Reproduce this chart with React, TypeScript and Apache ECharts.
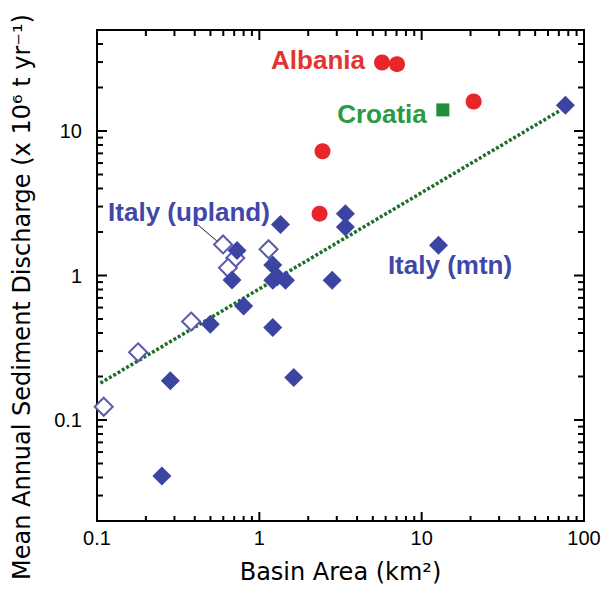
import React, { useEffect, useRef } from 'react';
import * as echarts from 'echarts';

const X_MIN = 0.1;
const X_MAX = 100;
const Y_MIN = 0.02;
const Y_MAX = 50;

const xMajorTicks = [1, 10];
const xMinorTicks = [
  0.2, 0.3, 0.4, 0.5, 0.6, 0.7, 0.8, 0.9,
  2, 3, 4, 5, 6, 7, 8, 9,
  20, 30, 40, 50, 60, 70, 80, 90,
];
const yMajorTicks = [0.1, 1, 10];
const yMinorTicks = [
  0.03, 0.04, 0.05, 0.06, 0.07, 0.08, 0.09,
  0.2, 0.3, 0.4, 0.5, 0.6, 0.7, 0.8, 0.9,
  2, 3, 4, 5, 6, 7, 8, 9,
  20, 30, 40,
];

// [basin area km2, discharge 10^6 t/yr]
const albania = [
  [5.7, 29.8],
  [7.05, 29.0],
  [20.9, 16.0],
  [2.45, 7.24],
  [2.35, 2.68],
];
const croatia = [[13.5, 14.0]];
const italyMtn = [
  [76.8, 15.1],
  [1.35, 2.25],
  [3.39, 2.68],
  [3.39, 2.17],
  [0.729, 1.49],
  [0.679, 0.931],
  [1.21, 1.18],
  [1.29, 0.98],
  [1.45, 0.928],
  [1.21, 0.928],
  [2.81, 0.928],
  [0.8, 0.616],
  [0.499, 0.459],
  [1.21, 0.436],
  [1.63, 0.197],
  [0.283, 0.187],
  [0.251, 0.0409],
  [12.7, 1.62],
];
const italyUpland = [
  [0.11, 0.1235],
  [0.179, 0.294],
  [0.38, 0.48],
  [0.598, 1.64],
  [0.711, 1.32],
  [0.641, 1.13],
  [1.14, 1.52],
];
const trend = [
  [0.105, 0.18],
  [70, 13.7],
];

const isMajor = (v: number) => {
  const l = Math.log10(v);
  return Math.abs(l - Math.round(l)) < 1e-6;
};
const fmt = (v: number) => {
  if (!isMajor(v)) return '';
  return v >= 1 ? String(Math.round(v)) : String(+v.toPrecision(1));
};

const BLUE = '#3b44a3';
const OPEN_BLUE = '#5a5aaa';
const RED = '#e8262a';
const GREEN = '#1f8f3c';

const W = 607;
const H = 589;
const G_LEFT = 97;
const G_RIGHT = 23;
const G_TOP = 30;
const G_BOTTOM = 67;
const MAJOR_LEN = 10;
const MINOR_LEN = 6;
const TICK_W = 2;

export default function App() {
  const ref = useRef<HTMLDivElement>(null);
  useEffect(() => {
    if (!ref.current) return;
    const chart = echarts.init(ref.current, undefined, { renderer: 'svg' });
    const labelFont = 'bold 26px "Liberation Sans", Arial, sans-serif';
    chart.setOption({
      animation: false,
      backgroundColor: '#fff',
      grid: {
        left: G_LEFT,
        right: G_RIGHT,
        top: G_TOP,
        bottom: G_BOTTOM,
        show: true,
        borderColor: '#000',
        borderWidth: 2,
        backgroundColor: 'transparent',
      },
      xAxis: {
        type: 'log',
        logBase: 10,
        min: X_MIN,
        max: X_MAX,
        position: 'bottom',
        name: 'Basin Area (km²)',
        nameLocation: 'middle',
        nameGap: 39,
        nameTextStyle: { fontFamily: 'DejaVu Sans', fontSize: 24, color: '#000' },
        axisLine: { show: true, lineStyle: { color: '#000', width: 2 } },
        axisTick: { show: false },
        splitLine: { show: false },
        axisLabel: {
          formatter: fmt,
          fontFamily: 'Liberation Sans',
          fontSize: 20,
          color: '#000',
          margin: 7,
          showMinLabel: true,
          showMaxLabel: true,
        },
      },
      yAxis: {
        type: 'log',
        logBase: 10,
        min: Y_MIN,
        max: Y_MAX,
        position: 'left',
        axisLine: { show: true, lineStyle: { color: '#000', width: 2 } },
        axisTick: { show: false },
        splitLine: { show: false },
        axisLabel: {
          formatter: fmt,
          fontFamily: 'Liberation Sans',
          fontSize: 20,
          color: '#000',
          margin: 15,
        },
      },
      series: [
        {
          type: 'line',
          name: 'trend',
          data: trend,
          showSymbol: false,
          symbol: 'none',
          lineStyle: { color: '#1e6e2a', width: 3.5, type: [3, 2] },
          z: 2,
        },
        {
          type: 'scatter',
          name: 'Italy (upland)',
          data: italyUpland,
          symbol: 'diamond',
          symbolSize: 18,
          itemStyle: { color: '#fff', borderColor: OPEN_BLUE, borderWidth: 2, opacity: 1 },
          z: 3,
        },
        {
          type: 'scatter',
          name: 'Italy (mtn)',
          data: italyMtn,
          symbol: 'diamond',
          symbolSize: 19,
          itemStyle: { color: BLUE, opacity: 1 },
          z: 4,
        },
        {
          type: 'scatter',
          name: 'Albania',
          data: albania,
          symbol: 'circle',
          symbolSize: 16,
          itemStyle: { color: RED, opacity: 1 },
          z: 4,
        },
        {
          type: 'scatter',
          name: 'Croatia',
          data: croatia,
          symbol: 'rect',
          symbolSize: 13,
          itemStyle: { color: GREEN, opacity: 1 },
          z: 4,
        },
      ],
    });

    // Tick marks as small filled rects; positions taken from the chart's own log axes
    // through an interior point of the grid.
    const bottom = H - G_BOTTOM;
    const top = G_TOP;
    const left = G_LEFT;
    const right = W - G_RIGHT;
    const toPx = (x: number, y: number): number[] | null => {
      const p: any = chart.convertToPixel({ gridIndex: 0 }, [x, y]);
      if (!p || !isFinite(p[0]) || !isFinite(p[1])) return null;
      return p as number[];
    };
    const ticks: any[] = [];
    const addX = (v: number, len: number) => {
      const p = toPx(v, 1);
      if (!p) return;
      const x = p[0];
      ticks.push({ type: 'rect', shape: { x: x - TICK_W / 2, y: bottom - len, width: TICK_W, height: len }, style: { fill: '#000' } });
      ticks.push({ type: 'rect', shape: { x: x - TICK_W / 2, y: top, width: TICK_W, height: len }, style: { fill: '#000' } });
    };
    const addY = (v: number, len: number) => {
      const p = toPx(1, v);
      if (!p) return;
      const y = p[1];
      ticks.push({ type: 'rect', shape: { x: left, y: y - TICK_W / 2, width: len, height: TICK_W }, style: { fill: '#000' } });
      ticks.push({ type: 'rect', shape: { x: right - len, y: y - TICK_W / 2, width: len, height: TICK_W }, style: { fill: '#000' } });
    };
    xMajorTicks.forEach((v) => addX(v, MAJOR_LEN));
    xMinorTicks.forEach((v) => addX(v, MINOR_LEN));
    yMajorTicks.forEach((v) => addY(v, MAJOR_LEN));
    yMinorTicks.forEach((v) => addY(v, MINOR_LEN));

    chart.setOption({
      graphic: [
        {
          type: 'text',
          x: 22,
          y: 297,
          rotation: Math.PI / 2,
          style: {
            text: 'Mean Annual Sediment Discharge (x 10⁶ t yr⁻¹)',
            fill: '#000',
            font: '24px "DejaVu Sans", sans-serif',
            align: 'center',
            verticalAlign: 'middle',
          },
        },
        {
          type: 'text',
          x: 318,
          y: 60,
          style: { text: 'Albania', fill: '#e33434', font: labelFont, align: 'center', verticalAlign: 'middle' },
        },
        {
          type: 'text',
          x: 382,
          y: 114,
          style: { text: 'Croatia', fill: '#2a9a44', font: labelFont, align: 'center', verticalAlign: 'middle' },
        },
        {
          type: 'text',
          x: 189,
          y: 212,
          style: { text: 'Italy (upland)', fill: '#3f48a8', font: labelFont, align: 'center', verticalAlign: 'middle' },
        },
        {
          type: 'text',
          x: 450,
          y: 265,
          style: { text: 'Italy (mtn)', fill: '#3f48a8', font: labelFont, align: 'center', verticalAlign: 'middle' },
        },
        {
          type: 'line',
          shape: { x1: 198, y1: 225, x2: 218, y2: 242 },
          style: { stroke: '#222', lineWidth: 1 },
        },
        ...ticks,
      ],
    });
    return () => chart.dispose();
  }, []);
  return (
    <div
      ref={ref}
      style={{ position: 'fixed', left: 0, top: 0, width: W, height: H }}
    />
  );
}
